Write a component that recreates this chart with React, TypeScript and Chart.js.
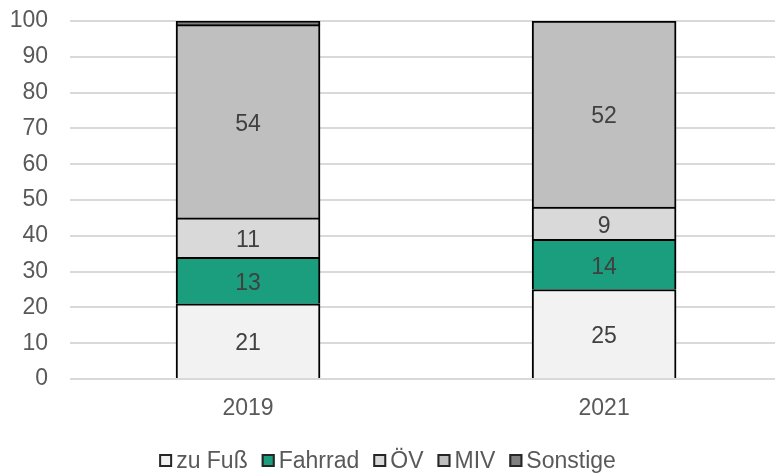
import React, { useEffect, useRef } from "react";
import { Chart, registerables } from "chart.js";

Chart.register(...registerables);

const categories = ["2019", "2021"];
const seriesNames = ["zu Fuß", "Fahrrad", "ÖV", "MIV", "Sonstige"];
const zuFuss = [21, 25];
const fahrrad = [13, 14];
const oev = [11, 9];
const miv = [54, 52];
const sonstige = [1, 0];
const seriesColors = ["#F2F2F2", "#1A9E7E", "#D9D9D9", "#BFBFBF", "#7F7F7F"];
const showValues = [true, true, true, true, false];
const yTicks = [0, 10, 20, 30, 40, 50, 60, 70, 80, 90, 100];

const FONT = '"Liberation Sans", Arial, sans-serif';
const FS = 23;

const valueLabelPlugin = {
  id: "valueLabels",
  afterDatasetsDraw(chart: any) {
    const ctx = chart.ctx;
    ctx.save();
    ctx.font = `${FS}px ${FONT}`;
    ctx.fillStyle = "#404040";
    ctx.textAlign = "center";
    ctx.textBaseline = "middle";
    chart.data.datasets.forEach((ds: any, di: number) => {
      if (!ds.showValues) return;
      const meta = chart.getDatasetMeta(di);
      meta.data.forEach((el: any, i: number) => {
        const v = ds.data[i].y;
        if (v === null || v === undefined) return;
        const cy = (el.y + el.base) / 2;
        ctx.fillText(String(v), el.x, cy + 3);
      });
    });
    ctx.restore();
  },
};

const legendPlugin = {
  id: "customLegend",
  afterDraw(chart: any) {
    const ctx = chart.ctx;
    ctx.save();
    ctx.font = `${FS}px ${FONT}`;
    const box = 13;
    const gap = 4;
    const spacing = 14;
    const items = chart.data.datasets.map((ds: any) => ({
      label: ds.label,
      color: ds.backgroundColor,
      w: ctx.measureText(ds.label).width,
    }));
    const total =
      items.reduce((s: number, it: any) => s + box + gap + it.w, 0) +
      spacing * (items.length - 1);
    let x = chart.width / 2 - total / 2;
    const cy = 460.5;
    items.forEach((it: any) => {
      ctx.fillStyle = it.color;
      ctx.fillRect(x, cy - box / 2, box, box);
      ctx.strokeStyle = "#262626";
      ctx.lineWidth = 2;
      ctx.strokeRect(x + 1, cy - box / 2 + 1, box - 2, box - 2);
      ctx.fillStyle = "#595959";
      ctx.textAlign = "left";
      ctx.textBaseline = "middle";
      ctx.fillText(it.label, x + box + gap, cy + 1);
      x += box + gap + it.w + spacing;
    });
    ctx.restore();
  },
};

export default function App() {
  const ref = useRef<HTMLCanvasElement | null>(null);
  useEffect(() => {
    if (!ref.current) return;
    const seriesValues = [zuFuss, fahrrad, oev, miv, sonstige];
    const chart = new Chart(ref.current, {
      type: "bar",
      data: {
        datasets: seriesNames.map((name, si) => ({
          label: name,
          data: categories.map((_, i) => ({
            x: i,
            y: seriesValues[si][i] === 0 ? null : seriesValues[si][i],
          })),
          backgroundColor: seriesColors[si],
          borderColor: "#000000",
          borderWidth: 2,
          barThickness: 144,
          showValues: showValues[si],
        })) as any,
      },
      options: {
        animation: false,
        responsive: false,
        devicePixelRatio: 1,
        layout: { padding: { top: 21, left: 0, right: 0, bottom: 0 } },
        plugins: {
          legend: { display: false },
          tooltip: { enabled: false },
        },
        scales: {
          x: {
            type: "linear",
            stacked: true,
            offset: false,
            bounds: "data",
            min: -0.5,
            max: 1.48,
            grid: { display: false },
            border: { display: false },
            afterBuildTicks: (scale: any) => {
              scale.ticks = categories.map((_, i) => ({ value: i }));
            },
            afterFit: (scale: any) => {
              scale.height = 95;
              scale.paddingLeft = 0;
              scale.paddingRight = 0;
            },
            ticks: {
              autoSkip: false,
              maxRotation: 0,
              padding: 8,
              color: "#595959",
              font: { family: FONT, size: FS },
              callback: (v: any) => categories[v] ?? "",
            },
          },
          y: {
            stacked: true,
            min: 0,
            max: 100,
            afterBuildTicks: (scale: any) => {
              scale.ticks = yTicks.map((v) => ({ value: v }));
            },
            afterFit: (scale: any) => {
              scale.width = 70;
              scale.paddingTop = 0;
              scale.paddingBottom = 0;
            },
            grid: { color: "#D9D9D9", lineWidth: 2, drawTicks: false },
            border: { display: false },
            ticks: {
              padding: 22,
              color: "#595959",
              font: { family: FONT, size: FS },
            },
          },
        },
      },
      plugins: [valueLabelPlugin, legendPlugin],
    });
    return () => chart.destroy();
  }, []);
  return (
    <div style={{ position: "absolute", left: 0, top: 0, width: 775, height: 474 }}>
      <canvas ref={ref} width={775} height={474} />
    </div>
  );
}
